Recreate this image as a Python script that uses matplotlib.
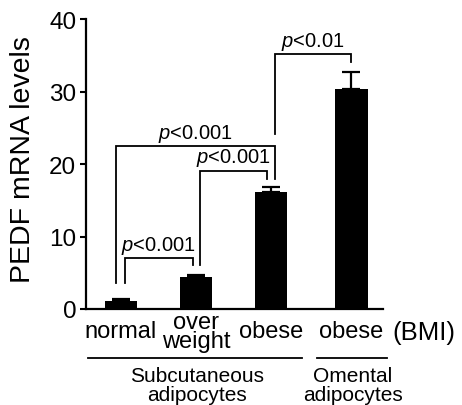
import matplotlib
matplotlib.use('Agg')
import matplotlib.pyplot as plt
from matplotlib.lines import Line2D

plt.rcParams['font.family'] = ['Liberation Sans', 'DejaVu Sans']
plt.rcParams['mathtext.fontset'] = 'custom'
plt.rcParams['mathtext.rm'] = 'Liberation Sans'
plt.rcParams['mathtext.it'] = 'Liberation Sans:italic'

# data
kategorie = ['normal', 'over\nweight', 'obese', 'obese']
pozycje = [0, 1, 2, 3.07]
srednie = [1.05, 4.4, 16.2, 30.4]
bledy = [0.3, 0.35, 0.7, 2.3]
y_ticks = [0, 10, 20, 30, 40]

# brackets: (x left, x right, top, left foot, right foot, label)
nawiasy = [
    (0.05, 0.956, 7.0, 3.6, 6.0, '$p$<0.001'),
    (1.05, 1.94, 19.1, 6.0, 17.9, '$p$<0.001'),
    (-0.06, 2.05, 22.5, 3.6, 17.9, '$p$<0.001'),
    (2.05, 3.07, 35.2, 24.1, 34.1, '$p$<0.01'),
]

fig = plt.figure(figsize=(4.62, 4.06), dpi=100)
ax = fig.add_axes([0.186, 0.2365, 0.643, 0.714])

ax.bar(pozycje, srednie, width=0.43, color='black',
       yerr=[[0] * len(bledy), bledy], capsize=6.5,
       error_kw={'elinewidth': 1.6, 'capthick': 1.6, 'ecolor': 'black'})

for xl, xr, top, lb, rb, txt in nawiasy:
    ax.plot([xl, xl, xr, xr], [lb, top, top, rb], color='black', lw=1.3,
            solid_joinstyle='miter', clip_on=False)
    ax.text((xl + xr) / 2, top + 0.3, txt, ha='center', va='bottom', fontsize=14.5)

ax.set_xlim(-0.467, 3.49)
ax.set_ylim(0, 40)
ax.set_yticks(y_ticks)
ax.set_xticks(pozycje)
ax.set_xticklabels(kategorie, fontsize=17, linespacing=0.8)
for lbl in ax.get_xticklabels():
    lbl.set_va('center')
ax.tick_params(axis='x', length=0, pad=16)
ax.tick_params(axis='y', labelsize=17.5, length=4, width=1.5, pad=3)

for s in ['top', 'right']:
    ax.spines[s].set_visible(False)
ax.spines['left'].set_linewidth(1.6)
ax.spines['bottom'].set_linewidth(1.6)

fig.text(0.05, 0.606, 'PEDF mRNA levels', rotation=90, ha='center', va='center', fontsize=20.5)
fig.text(0.918, 0.18, '(BMI)', ha='center', va='center', fontsize=18.5)

fig.add_artist(Line2D([0.19, 0.654], [0.1165, 0.1165], color='black', lw=1.3))
fig.add_artist(Line2D([0.686, 0.838], [0.1165, 0.1165], color='black', lw=1.3))
fig.text(0.426, 0.05, 'Subcutaneous\nadipocytes', ha='center', va='center', fontsize=15, linespacing=1.0)
fig.text(0.763, 0.05, 'Omental\nadipocytes', ha='center', va='center', fontsize=15, linespacing=1.0)

fig.savefig('out.png', dpi=100)
